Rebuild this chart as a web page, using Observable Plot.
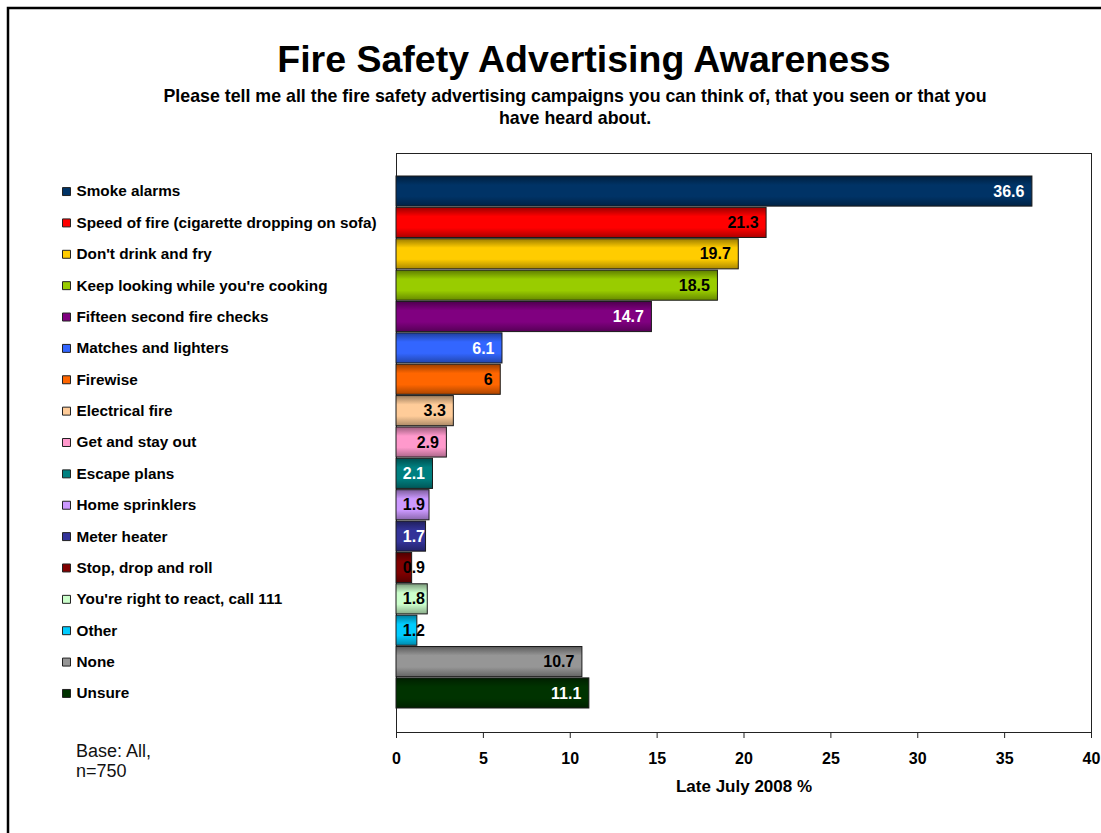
<!DOCTYPE html>
<html><head><meta charset="utf-8">
<script src="https://cdn.jsdelivr.net/npm/d3@7"></script>
<script src="https://cdn.jsdelivr.net/npm/@observablehq/plot@0.6"></script>
<style>
html,body{margin:0;padding:0;background:#fff;overflow:hidden;}
#chart{position:relative;width:1101px;height:833px;}
</style></head><body><div id="chart"></div>
<script>
const categories = [
  "Smoke alarms",
  "Speed of fire (cigarette dropping on sofa)",
  "Don't drink and fry",
  "Keep looking while you're cooking",
  "Fifteen second fire checks",
  "Matches and lighters",
  "Firewise",
  "Electrical fire",
  "Get and stay out",
  "Escape plans",
  "Home sprinklers",
  "Meter heater",
  "Stop, drop and roll",
  "You're right to react, call 111",
  "Other",
  "None",
  "Unsure"
];
const values = [36.6, 21.3, 19.7, 18.5, 14.7, 6.1, 6, 3.3, 2.9, 2.1, 1.9, 1.7, 0.9, 1.8, 1.2, 10.7, 11.1];
const colors = ["#003366", "#FF0000", "#FFCC00", "#99CC00", "#800080", "#3366FF", "#FF6600", "#FFCC99",
  "#FF99CC", "#008080", "#CC99FF", "#333399", "#800000", "#CCFFCC", "#00CCFF", "#969696", "#003300"];
const labelColors = ["#fff", "#000", "#000", "#000", "#fff", "#fff", "#000", "#000",
  "#000", "#fff", "#000", "#fff", "#000", "#000", "#000", "#000", "#fff"];
const xTicks = [0, 5, 10, 15, 20, 25, 30, 35, 40];
const titleText = "Fire Safety Advertising Awareness";
const subtitleLines = [
  "Please tell me all the fire safety advertising campaigns you can think of, that you seen or that you",
  "have heard about."
];
const xLabel = "Late July 2008 %";
const baseLines = ["Base: All,", "n=750"];

const data = categories.map((name, i) => ({name, value: values[i], color: colors[i], labelColor: labelColors[i]}));
const FONT = "'Liberation Sans', Arial, Helvetica, sans-serif";

const svg = Plot.plot({
  width: 1101, height: 833,
  marginLeft: 396, marginRight: 10, marginTop: 153, marginBottom: 101,
  style: {fontFamily: FONT, background: "transparent", overflow: "visible"},
  x: {domain: [0, 40], ticks: xTicks},
  y: {domain: categories, paddingInner: 0.04, paddingOuter: 0, round: false, insetTop: 23, insetBottom: 24, axis: null},
  color: {type: "identity"},
  marks: [
    Plot.frame({stroke: "#222", strokeWidth: 1}),
    Plot.barX(data, {x: "value", y: "name", fill: "color", stroke: "#1a1a1a", strokeWidth: 1}),
    Plot.text(data, {x: d => Math.max(d.value, 2.1), y: "name", text: d => String(d.value), textAnchor: "end", dx: -8,
      fill: "labelColor", fontWeight: "bold", fontSize: 16}),
    Plot.dot(data, {y: "name", frameAnchor: "left", dx: -330, symbol: "square", r: 4.5, fill: "color", stroke: "#222", strokeWidth: 1}),
    Plot.text(data, {y: "name", frameAnchor: "left", dx: -320, text: "name", textAnchor: "start",
      fontWeight: "bold", fontSize: 15.3, fill: "#000"}),
    Plot.axisX({ticks: xTicks, tickSize: 6, tickPadding: 14, tickFormat: d => String(d), fontSize: 16, fontWeight: "bold",
      label: null, stroke: "#222", fill: "#000"}),
    Plot.text([xLabel], {frameAnchor: "bottom", dy: 59, text: d => d, fontWeight: "bold", fontSize: 17, fill: "#000"})
  ]
});

// gradient shading for bars
const sel = d3.select(svg);
const defs = sel.insert("defs", ":first-child");
colors.forEach((c, i) => {
  const g = defs.append("linearGradient").attr("id", "barGrad" + i)
    .attr("x1", 0).attr("y1", 0).attr("x2", 0).attr("y2", 1);
  g.append("stop").attr("offset", "0%").attr("stop-color", d3.color(c).darker(1.4).formatHex());
  g.append("stop").attr("offset", "30%").attr("stop-color", c);
  g.append("stop").attr("offset", "68%").attr("stop-color", c);
  g.append("stop").attr("offset", "100%").attr("stop-color", d3.color(c).darker(1.1).formatHex());
});
sel.selectAll('g[aria-label="bar"] rect').each(function(_, i) {
  d3.select(this).attr("fill", "url(#barGrad" + i + ")");
});

// outer border
sel.append("path").attr("d", "M8,840V8H1110").attr("fill", "none").attr("stroke", "#000").attr("stroke-width", 2.5);

// title and subtitle
sel.append("text").attr("x", 584).attr("y", 72).attr("text-anchor", "middle")
  .attr("font-family", FONT).attr("font-size", 37.5).attr("font-weight", "bold").attr("fill", "#000").text(titleText);
subtitleLines.forEach((t, i) => {
  sel.append("text").attr("x", 575).attr("y", 102 + i * 22).attr("text-anchor", "middle")
    .attr("font-family", FONT).attr("font-size", 17.8).attr("font-weight", "bold").attr("fill", "#000").text(t);
});
baseLines.forEach((t, i) => {
  sel.append("text").attr("x", 76).attr("y", 757 + i * 20).attr("text-anchor", "start")
    .attr("font-family", FONT).attr("font-size", 18).attr("fill", "#111").text(t);
});

document.getElementById("chart").appendChild(svg);
</script>
</body></html>
